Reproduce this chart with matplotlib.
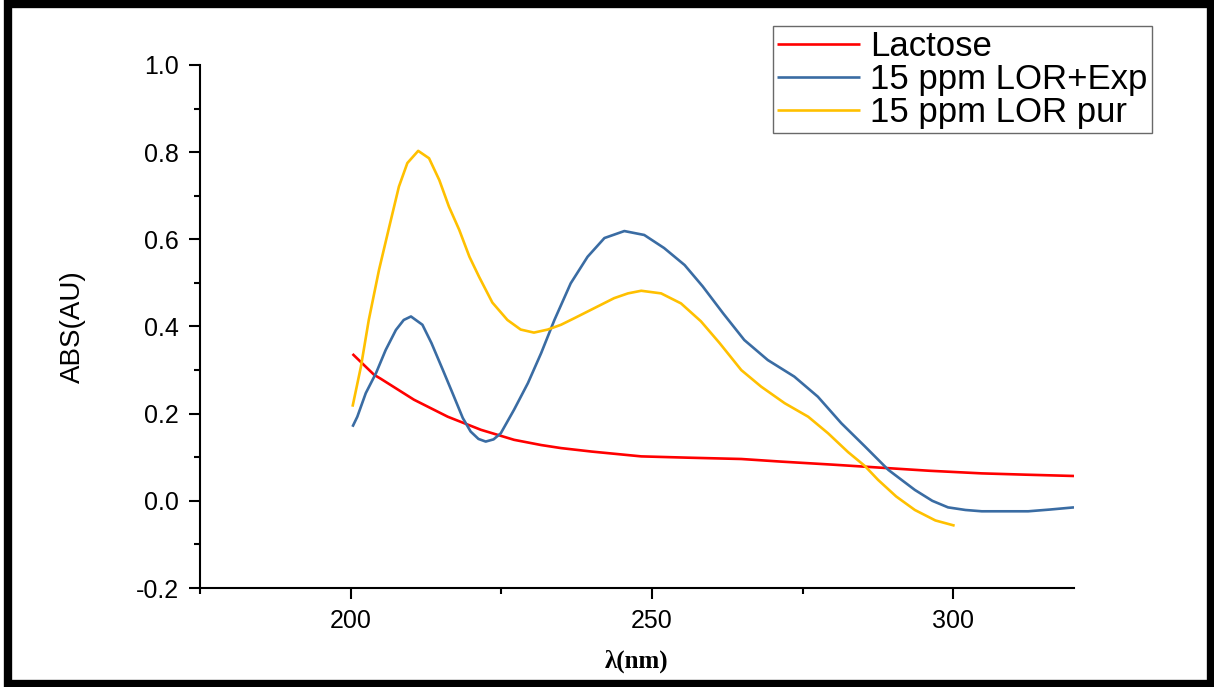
import matplotlib.pyplot as plt
from matplotlib.ticker import MultipleLocator
from matplotlib.patches import Rectangle

# wavelength (nm) / absorbance
lactose_x = [200.3, 203.9, 205, 210.5, 216.1, 221.6, 227.1, 231.6, 234.9, 240,
             248.2, 256, 264.8, 271.4, 280, 288, 296, 304.7, 312, 320]
lactose_y = [0.337, 0.289, 0.280, 0.232, 0.193, 0.163, 0.140, 0.128, 0.121, 0.113,
             0.102, 0.099, 0.096, 0.090, 0.083, 0.076, 0.069, 0.063, 0.060, 0.057]

exp_x = [200.3, 201.1, 202.5, 204.2, 205.8, 207.5, 208.8, 210.0, 211.9, 213.4,
         215.3, 216.9, 218.6, 219.9, 221.2, 222.4, 223.7, 224.9, 227.1, 229.4,
         231.6, 233.8, 236.5, 239.3, 242.1, 245.4, 248.7, 252.0, 255.4, 258.4,
         261.8, 265.3, 269.2, 273.6, 277.5, 281.4, 285.3, 289.2, 293.6, 296.5,
         299.1, 302, 304.7, 312.4, 316, 320]
exp_y = [0.170, 0.193, 0.247, 0.293, 0.346, 0.392, 0.415, 0.423, 0.404, 0.362,
         0.300, 0.247, 0.190, 0.159, 0.142, 0.136, 0.141, 0.155, 0.209, 0.270,
         0.339, 0.415, 0.499, 0.560, 0.603, 0.619, 0.610, 0.580, 0.541, 0.492,
         0.430, 0.369, 0.323, 0.285, 0.239, 0.178, 0.125, 0.071, 0.025, 0.000,
         -0.015, -0.021, -0.024, -0.024, -0.020, -0.015]

pur_x = [200.3, 201.7, 203.0, 204.7, 206.4, 208.0, 209.4, 211.2, 213.0, 214.7,
         216.3, 218.0, 219.7, 221.3, 223.5, 226.0, 228.2, 230.4, 232.7, 234.9,
         237.1, 240.4, 243.7, 246, 248.2, 251.5, 254.8, 258.1, 261.2, 264.8,
         268.1, 272.0, 275.9, 279.2, 282.5, 285.3, 287.5, 290.5, 293.6, 297,
         300.2]
pur_y = [0.216, 0.308, 0.415, 0.530, 0.629, 0.721, 0.775, 0.803, 0.786, 0.736,
         0.675, 0.622, 0.560, 0.514, 0.455, 0.415, 0.393, 0.386, 0.393, 0.404,
         0.419, 0.442, 0.465, 0.476, 0.482, 0.476, 0.453, 0.412, 0.362, 0.300,
         0.262, 0.224, 0.193, 0.155, 0.112, 0.080, 0.048, 0.010, -0.021, -0.045,
         -0.057]

plt.rcParams['font.family'] = ['Liberation Sans', 'DejaVu Sans']

W, H = 1214, 687
fig = plt.figure(figsize=(W/100, H/100), dpi=100)
ax = fig.add_axes([200/W, 1-588/H, 874/W, 523/H])

line_kw = dict(lw=1.9, solid_joinstyle='round', solid_capstyle='butt')
ax.plot(lactose_x, lactose_y, color='#ff0000', label='Lactose', **line_kw)
ax.plot(exp_x, exp_y, color='#3a6ca3', label='15 ppm LOR+Exp', **line_kw)
ax.plot(pur_x, pur_y, color='#ffc000', label='15 ppm LOR pur', **line_kw)

ax.set_xlim(175, 320)
ax.set_ylim(-0.2, 1.0)
ax.xaxis.set_major_locator(MultipleLocator(50))
ax.xaxis.set_minor_locator(MultipleLocator(25))
ax.yaxis.set_major_locator(MultipleLocator(0.2))
ax.yaxis.set_minor_locator(MultipleLocator(0.1))
ax.yaxis.set_major_formatter(plt.FormatStrFormatter('%.1f'))

for s in ['top', 'right']:
    ax.spines[s].set_visible(False)
for s in ['left', 'bottom']:
    ax.spines[s].set_linewidth(1.5)
ax.tick_params(which='major', direction='out', length=8, width=1.5, labelsize=18, pad=7)
ax.tick_params(which='minor', direction='out', length=4.5, width=1.5)

ax.set_ylabel('ABS(AU)', fontsize=20, labelpad=36)
ax.set_xlabel('λ(nm)', fontsize=18, family=['Liberation Serif', 'DejaVu Serif'],
              fontweight='bold', labelpad=12)

leg = ax.legend(loc='upper right', bbox_to_anchor=(1152/W, 1-26/H),
                bbox_transform=fig.transFigure, fontsize=25, frameon=True,
                fancybox=False, handlelength=2.4, handletextpad=0.3,
                labelspacing=0.0, borderpad=0.12, borderaxespad=0)
leg.get_frame().set_edgecolor('#444444')
leg.get_frame().set_linewidth(1.0)

# thick black frame around the picture
fig.patches.append(Rectangle((8/W, 3/H), 1203/W, 680/H, transform=fig.transFigure,
                             fill=False, edgecolor='black', lw=6))

fig.savefig('out.png', dpi=100)
